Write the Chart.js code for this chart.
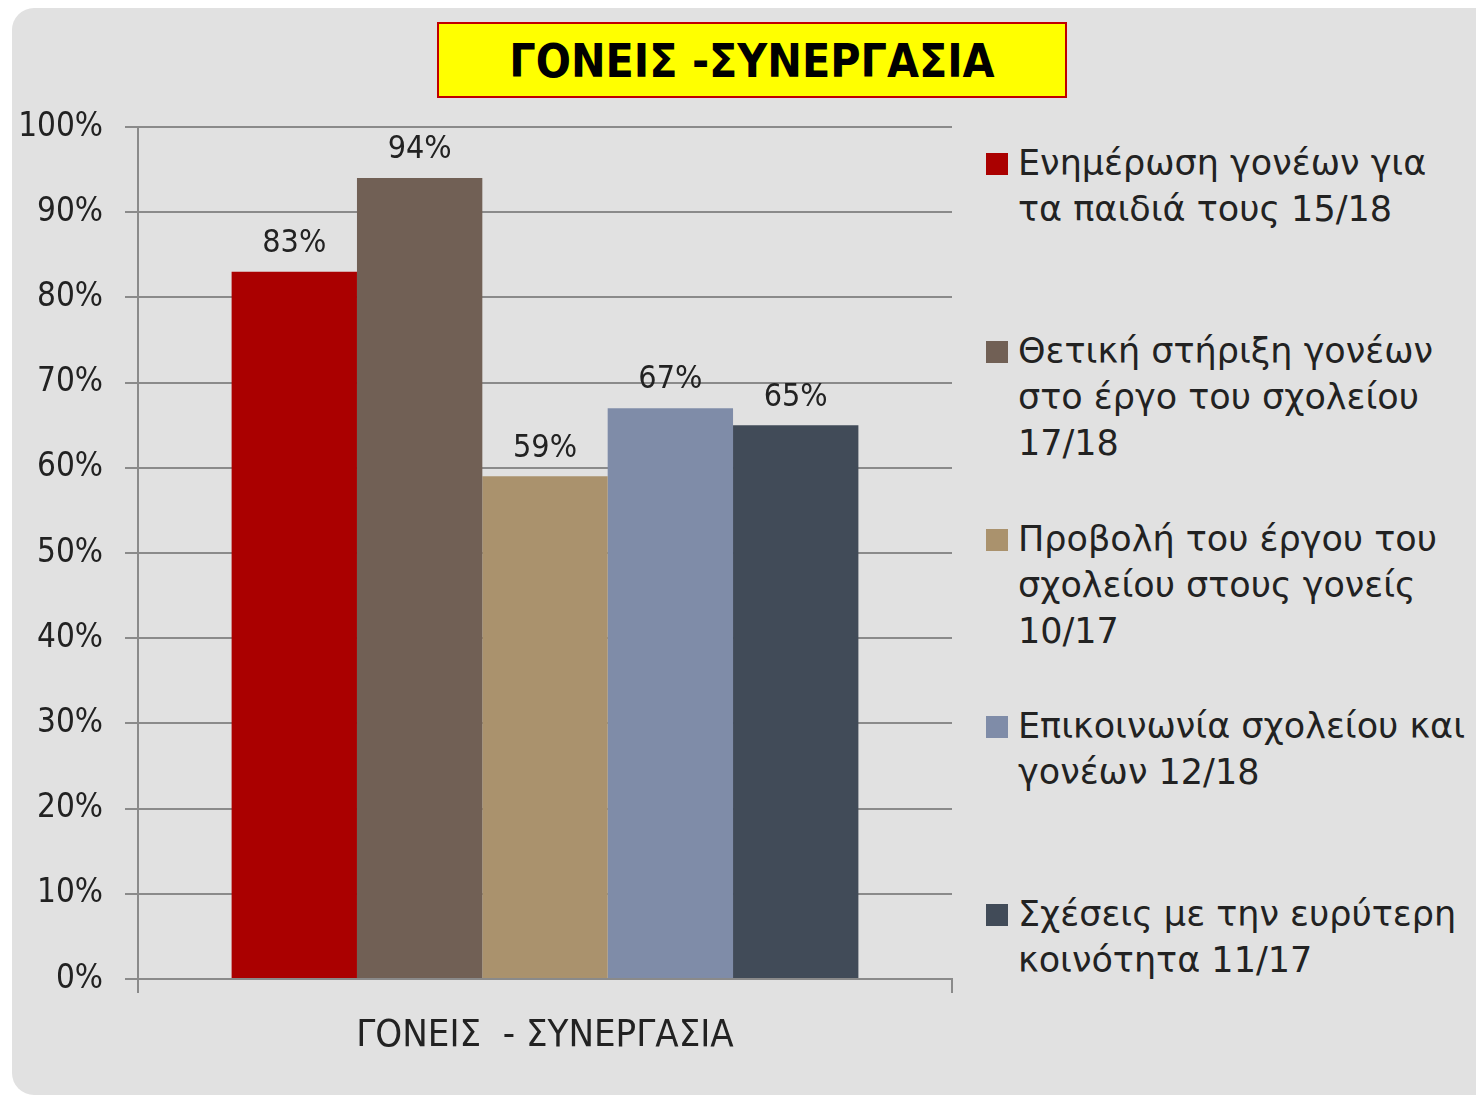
<!DOCTYPE html>
<html>
<head>
<meta charset="utf-8">
<script src="https://cdn.jsdelivr.net/npm/chart.js@4"></script>
<style>
  html, body { margin: 0; padding: 0; background: #ffffff; }
  body { width: 1476px; height: 1097px; position: relative; overflow: hidden; }
  .panel {
    position: absolute; left: 12px; top: 8px; width: 1500px; height: 1087px;
    background: #e1e1e1; border-radius: 22px;
  }
  .title {
    position: absolute; left: 437px; top: 22px; width: 626px; height: 72px;
    background: #ffff00; border: 2px solid #c00000;
    font-family: "DejaVu Sans Condensed", "DejaVu Sans", sans-serif; font-weight: bold;
    font-size: 46px; line-height: 74px; text-align: center; color: #000;
  }
  .chart-box { position: absolute; left: 0; top: 0; width: 960px; height: 1097px; }
  .legend { position: absolute; left: 0; top: 0; }
  .legend-item { position: absolute; left: 986px; }
  .legend-item .swatch { position: absolute; left: 0; top: 12px; width: 22px; height: 22px; }
  .legend-item .text {
    position: absolute; left: 32px; top: -1px; white-space: nowrap;
    font-family: "DejaVu Sans", sans-serif; font-size: 35px; line-height: 46px; color: #222;
  }
</style>
</head>
<body>
<div class="panel"></div>
<div class="title" id="title"></div>
<div class="chart-box"><canvas id="chart"></canvas></div>
<div class="legend" id="legend"></div>

<script>
const titleText = "ΓΟΝΕΙΣ -ΣΥΝΕΡΓΑΣΙΑ";
const categories = ["ΓΟΝΕΙΣ  - ΣΥΝΕΡΓΑΣΙΑ"];
const seriesLabels = [
  ["Ενημέρωση γονέων για", "τα παιδιά τους 15/18"],
  ["Θετική στήριξη γονέων", "στο έργο του σχολείου", "17/18"],
  ["Προβολή του έργου του", "σχολείου στους γονείς", "10/17"],
  ["Επικοινωνία σχολείου και", "γονέων 12/18"],
  ["Σχέσεις με την ευρύτερη", "κοινότητα 11/17"],
];
const seriesValues = [83, 94, 59, 67, 65];
const seriesColors = ["#aa0000", "#716055", "#aa926d", "#7f8ca8", "#414b58"];
const yTicks = [0, 10, 20, 30, 40, 50, 60, 70, 80, 90, 100];

document.getElementById("title").textContent = titleText;

// legend (html, multi-line labels)
const legendTops = [141, 329, 517, 704, 892];
const legendEl = document.getElementById("legend");
seriesLabels.forEach((lines, i) => {
  const item = document.createElement("div");
  item.className = "legend-item";
  item.style.top = legendTops[i] + "px";
  const sw = document.createElement("div");
  sw.className = "swatch";
  sw.style.background = seriesColors[i];
  const txt = document.createElement("div");
  txt.className = "text";
  txt.innerHTML = lines.join("<br>");
  item.appendChild(sw);
  item.appendChild(txt);
  legendEl.appendChild(item);
});

// value labels above bars
const valueLabels = {
  id: "valueLabels",
  afterDatasetsDraw(chart) {
    const ctx = chart.ctx;
    ctx.save();
    ctx.font = '32px "DejaVu Sans Condensed", "DejaVu Sans", sans-serif';
    ctx.fillStyle = "#222";
    ctx.textAlign = "center";
    ctx.textBaseline = "bottom";
    chart.data.datasets.forEach((ds, i) => {
      const meta = chart.getDatasetMeta(i);
      meta.data.forEach((bar, j) => {
        ctx.fillText(ds.data[j] + "%", bar.x, bar.y - 12);
      });
    });
    ctx.restore();
  },
};

const gridColor = "#8a8a8a";
const context = document.getElementById("chart").getContext("2d");
new Chart(context, {
  type: "bar",
  data: {
    labels: categories,
    datasets: seriesValues.map((v, i) => ({
      label: seriesLabels[i].join(" "),
      data: [v],
      backgroundColor: seriesColors[i],
      borderWidth: 0,
    })),
  },
  options: {
    responsive: true,
    maintainAspectRatio: false,
    animation: false,
    categoryPercentage: 0.77,
    barPercentage: 1,
    layout: { padding: { top: 127, right: 8, left: 0, bottom: 0 } },
    plugins: {
      legend: { display: false },
      tooltip: { enabled: false },
    },
    scales: {
      x: {
        type: "category",
        grid: {
          offset: true,
          drawOnChartArea: false,
          drawTicks: true,
          tickLength: 14,
          color: gridColor,
          lineWidth: 2,
        },
        border: { color: gridColor, width: 2 },
        ticks: {
          color: "#222",
          padding: 20,
          font: { family: '"DejaVu Sans Condensed", "DejaVu Sans", sans-serif', size: 38 },
        },
        afterFit(scale) { scale.height = 118; },
      },
      y: {
        min: 0,
        max: 100,
        afterBuildTicks(scale) { scale.ticks = yTicks.map((v) => ({ value: v })); },
        grid: { color: gridColor, lineWidth: 2, tickLength: 13 },
        border: { color: gridColor, width: 2 },
        ticks: {
          color: "#222",
          padding: 22,
          font: { family: '"DejaVu Sans Condensed", "DejaVu Sans", sans-serif', size: 33 },
          callback: (v) => v + "%",
        },
        afterFit(scale) { scale.width = 138; },
      },
    },
  },
  plugins: [valueLabels],
});
</script>
</body>
</html>
